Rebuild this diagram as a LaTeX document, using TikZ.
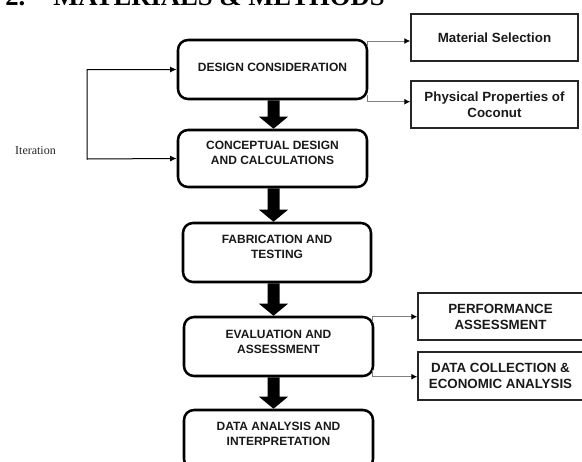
\documentclass[tikz,border=0pt]{standalone}
\usepackage{fontspec}
\setmainfont{Liberation Sans}
\newfontfamily\timesfont{Liberation Serif}
\usetikzlibrary{arrows.meta,calc}
\newcommand\blockarrow[2]{\fill ($(#1)+(-6,0)$) -- ($(#2)+(-6,-12)$) -- ($(#2)+(-14.5,-12)$) -- (#2) -- ($(#2)+(14.5,-12)$) -- ($(#2)+(6,-12)$) -- ($(#1)+(6,0)$) -- cycle;}
\begin{document}
\begin{tikzpicture}[x=0.75pt,y=-0.75pt,
  mainbox/.style={draw=black,line width=1.9pt,rounded corners=7.5pt,minimum width=141.75pt,minimum height=44.25pt,inner sep=0pt},
  maintext/.style={font=\bfseries\fontsize{9}{11.25}\selectfont,align=center,inner sep=0pt,text=black!90},
  sidebox/.style={draw=black!85,line width=1.1pt,minimum width=125.25pt,minimum height=35.25pt,align=center,inner sep=0pt,font=\bfseries\fontsize{10}{12}\selectfont,text=black!90},
  conn/.style={draw=black!50,line width=0.75pt,-{Latex[color=black,length=4.5pt,width=4.5pt]}},
  iter/.style={draw=black,line width=0.75pt,{Latex[length=5pt,width=4.5pt]}-{Latex[length=5pt,width=4.5pt]}},
  titlefont/.style={font=\timesfont\bfseries\fontsize{20}{23}\selectfont},
  ]
\useasboundingbox (0,0) rectangle (582,461);

% title
\node[anchor=base west,inner sep=0pt,titlefont] (t1) at (5,5) {2.};
\node[anchor=base west,inner sep=0pt,titlefont] (t2) at (53,5) {MATERIALS \& METHODS};

% main boxes
\node[mainbox] (dc) at (272.5,69.5) {};
\node[maintext] (dct) at ($(dc.north)+(0,29)$) {DESIGN CONSIDERATION};
\node[mainbox,minimum height=42.75pt] (cd) at (272.5,158.5) {};
\node[maintext] (cdt) at ($(cd.north)+(0,24.5)$) {CONCEPTUAL DESIGN\\AND CALCULATIONS};
\node[mainbox,minimum width=141pt] (fab) at (277,252.5) {};
\node[maintext] (fabt) at ($(fab.north)+(0,25.5)$) {FABRICATION AND\\TESTING};
\node[mainbox] (eva) at (278.5,346.5) {};
\node[maintext] (evat) at ($(eva.north)+(0,26)$) {EVALUATION AND\\ASSESSMENT};
\node[mainbox] (daa) at (278.5,439.5) {};
\node[maintext] (daat) at ($(daa.north)+(0,25.5)$) {DATA ANALYSIS AND\\INTERPRETATION};

% side boxes
\node[sidebox] (ms) at (494.5,37.5) {Material Selection};
\node[sidebox] (pp) at (494.5,104.5) {Physical Properties of\\Coconut};
\node[sidebox,minimum width=123.75pt] (pa) at (500.5,316.5) {PERFORMANCE\\ASSESSMENT};
\node[sidebox,minimum width=123.75pt,minimum height=36pt] (dca) at (500.5,376) {DATA COLLECTION \&\\ECONOMIC ANALYSIS};

% block arrows
\coordinate (ax) at (273.5,0);
\coordinate (a1s) at (dc.south -| ax);
\coordinate (a1e) at (cd.north -| ax);
\coordinate (a2s) at (cd.south -| ax);
\coordinate (a2e) at (fab.north -| ax);
\coordinate (a3s) at (fab.south -| ax);
\coordinate (a3e) at (eva.north -| ax);
\coordinate (a4s) at (eva.south -| ax);
\coordinate (a4e) at (daa.north -| ax);
\blockarrow{a1s}{a1e}
\blockarrow{a2s}{a2e}
\blockarrow{a3s}{a3e}
\blockarrow{a4s}{a4e}

% side connectors
\coordinate (c1) at (367.5,47);
\coordinate (c2) at (367.5,95);
\coordinate (c3) at (372.5,322);
\coordinate (c4) at (372.5,370);
\draw[conn] (c1) |- (ms.west |- 0,41);
\draw[conn] (c2) |- (pp.west |- 0,101.7);
\draw[conn] (c3) |- (pa.west |- 0,316.7);
\draw[conn] (c4) |- (dca.west |- 0,376.7);

% iteration loop
\coordinate (it) at (87,159);
\draw[iter] (dc.west) -| (it) -- (cd.west);
\node[font=\timesfont\fontsize{9}{11}\selectfont,inner sep=0pt,text=black!85] (itl) at (35.5,151) {Iteration};
\end{tikzpicture}
\end{document}
